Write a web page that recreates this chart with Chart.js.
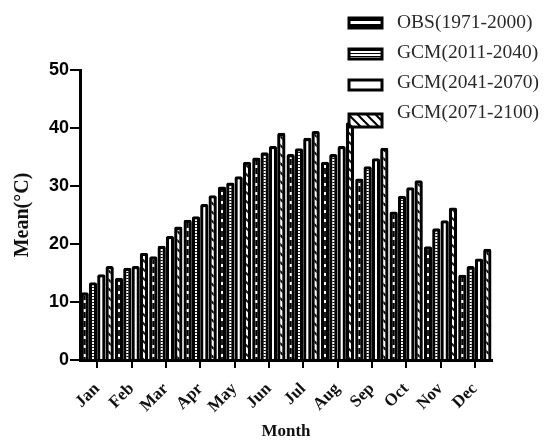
<!DOCTYPE html>
<html>
<head>
<meta charset="utf-8">
<script src="https://cdn.jsdelivr.net/npm/chart.js@4/dist/chart.umd.min.js"></script>
<style>
  html, body { margin: 0; padding: 0; background: #fff; }
  #wrap { width: 547px; height: 442px; position: relative; }
</style>
</head>
<body>
<div id="wrap"><canvas id="meanChart" width="547" height="442"></canvas></div>
<script>
// monthly mean temperature, observed vs three GCM periods
const months = ['Jan', 'Feb', 'Mar', 'Apr', 'May', 'Jun', 'Jul', 'Aug', 'Sep', 'Oct', 'Nov', 'Dec'];
const seriesNames = ['OBS(1971-2000)', 'GCM(2011-2040)', 'GCM(2041-2070)', 'GCM(2071-2100)'];
const obs1971 = [11.7, 14.2, 17.9, 24.2, 29.9, 34.9, 35.5, 34.2, 31.3, 25.6, 19.6, 14.7];
const gcm2011 = [13.4, 15.9, 19.7, 24.8, 30.6, 35.8, 36.5, 35.5, 33.4, 28.3, 22.7, 16.2];
const gcm2041 = [14.8, 16.2, 21.4, 26.9, 31.7, 36.9, 38.3, 36.9, 34.8, 29.8, 24.1, 17.5];
const gcm2071 = [16.2, 18.5, 23.0, 28.4, 34.2, 39.2, 39.5, 41.0, 36.6, 31.0, 26.3, 19.2];
const yTicks = [0, 10, 20, 30, 40, 50];

// --- fill patterns for the four bar styles ---
function makePattern(w, h, paint) {
    const c = document.createElement('canvas');
    c.width = w; c.height = h;
    const g = c.getContext('2d');
    paint(g, w, h);
    return g.createPattern(c, 'repeat');
}

// black column with small white windows
const obsFill = makePattern(1, 9, (g, w, h) => {
    g.fillStyle = '#000'; g.fillRect(0, 0, w, h);
    g.fillStyle = '#fff'; g.fillRect(0, 3, w, 3);
});
// black column with a fine dotted line
const dotFill = makePattern(1, 3, (g, w, h) => {
    g.fillStyle = '#000'; g.fillRect(0, 0, w, h);
    g.fillStyle = '#fff'; g.fillRect(0, 0, w, 2);
});
// diagonal hatch on white
const hatchFill = makePattern(9, 9, (g, w, h) => {
    g.fillStyle = '#fff'; g.fillRect(0, 0, w, h);
    g.strokeStyle = '#000'; g.lineWidth = 2;
    g.beginPath();
    g.moveTo(-2, -2); g.lineTo(w + 2, h + 2);
    g.moveTo(-2, h - 2); g.lineTo(2, h + 2);
    g.moveTo(w - 2, -2); g.lineTo(w + 2, 2);
    g.stroke();
});

const fills = [obsFill, dotFill, '#fff', hatchFill];
const values = [obs1971, gcm2011, gcm2041, gcm2071];

// legend stacked in the top right corner, drawn over the bars
const cornerLegend = {
    id: 'cornerLegend',
    afterDatasetsDraw(chart) {
        const ctx = chart.ctx;
        ctx.save();
        const boxTops = [18, 49, 80, 114];
        chart.data.datasets.forEach((ds, i) => {
            const bx = 349, bw = 33, bh = i === 3 ? 13 : 10;
            const by = boxTops[i];
            ctx.fillStyle = '#fff';
            ctx.fillRect(bx - 1, by - 1, bw + 2, bh + 2);
            ctx.fillStyle = ds.backgroundColor;
            ctx.fillRect(bx, by, bw, bh);
            ctx.lineWidth = 3;
            ctx.strokeStyle = '#000';
            ctx.strokeRect(bx, by, bw, bh);
            ctx.fillStyle = '#2a2a2a';
            ctx.font = '19.5px "Liberation Serif"';
            ctx.textBaseline = 'middle';
            ctx.textAlign = 'left';
            ctx.fillText(ds.label, 397, 23 + i * 30);
        });
        ctx.restore();
    }
};

new Chart(document.getElementById('meanChart'), {
    type: 'bar',
    data: {
        labels: months,
        datasets: seriesNames.map((name, i) => ({
            label: name,
            data: values[i],
            backgroundColor: fills[i],
            borderColor: '#000',
            borderWidth: 3.3,
            borderRadius: 2,
            borderSkipped: 'bottom',
            categoryPercentage: 0.97,
            barPercentage: 1
        }))
    },
    options: {
        responsive: false,
        animation: false,
        layout: { padding: { top: 70, right: 55, left: 0, bottom: 0 } },
        plugins: {
            legend: { display: false },
            tooltip: { enabled: false }
        },
        scales: {
            x: {
                grid: { display: true, drawOnChartArea: false, offset: false, color: '#000', lineWidth: 2, tickLength: 8 },
                border: { display: true, color: '#000', width: 3 },
                ticks: {
                    color: '#111',
                    font: { family: '"Liberation Serif"', size: 17, weight: 'bold' },
                    minRotation: 45, maxRotation: 45,
                    padding: 11
                },
                title: {
                    display: true, text: 'Month', color: '#111',
                    font: { family: '"Liberation Serif"', size: 17, weight: 'bold' },
                    padding: { top: 4, bottom: 0 }
                },
                afterFit(scale) { scale.height = 82; }
            },
            y: {
                min: 0, max: 50,
                afterBuildTicks(scale) { scale.ticks = yTicks.map(v => ({ value: v })); },
                grid: { display: true, drawOnChartArea: false, color: '#000', lineWidth: 2, tickLength: 10 },
                border: { display: true, color: '#000', width: 3 },
                ticks: {
                    color: '#000',
                    font: { family: '"Liberation Sans"', size: 18, weight: 'bold' },
                    padding: 1
                },
                title: {
                    display: true, text: 'Mean(\u00B0C)', color: '#111',
                    font: { family: '"Liberation Serif"', size: 20, weight: 'bold' },
                    padding: { top: 11, bottom: 0 }
                },
                afterFit(scale) { scale.width = 80; }
            }
        }
    },
    plugins: [cornerLegend]
});
</script>
</body>
</html>
